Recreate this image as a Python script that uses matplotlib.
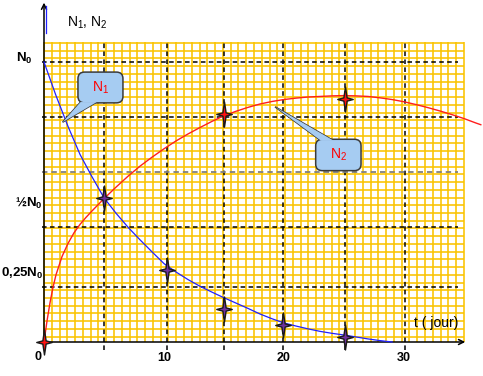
import numpy as np
import matplotlib.pyplot as plt
from matplotlib.path import Path
from matplotlib.patches import FancyBboxPatch, Polygon

plt.rcParams['font.family'] = ['Liberation Sans', 'DejaVu Sans']
plt.rcParams['mathtext.fontset'] = 'custom'
plt.rcParams['mathtext.rm'] = 'Liberation Sans'
plt.rcParams['mathtext.bf'] = 'Liberation Sans:bold'
plt.rcParams['mathtext.default'] = 'rm'

# ── Data ──────────────────────────────────────────────
t_n1 = [0, 1, 2, 3, 4, 5, 6, 7, 8, 9, 10, 11, 12, 13, 14,
        15, 16, 17, 18, 19, 20, 21, 22, 23, 24, 25, 26, 27, 28, 29]
n1 = [1.00, 0.88, 0.77, 0.67, 0.59, 0.515, 0.46, 0.41, 0.365, 0.322,
      0.280, 0.250, 0.223, 0.199, 0.178, 0.158, 0.139, 0.120, 0.100, 0.083,
      0.068, 0.057, 0.047, 0.038, 0.031, 0.025, 0.018, 0.011, 0.005, 0.0]

t_n2 = [0, 0.25, 0.5, 0.75, 1, 1.5, 2, 2.5, 3, 3.5, 4, 4.5, 5, 6, 7, 8,
        9, 10, 11, 12, 13, 14, 15, 16, 17, 18, 19, 20, 21, 22, 23, 24,
        25, 26, 27, 28, 29, 30, 31, 32, 33, 34, 35, 36, 36.4]
n2 = [0.0, 0.075, 0.14, 0.195, 0.24, 0.305, 0.352, 0.39, 0.42, 0.445,
      0.468, 0.49, 0.512, 0.553, 0.592, 0.628, 0.660, 0.690, 0.718, 0.743,
      0.766, 0.788, 0.808, 0.824, 0.838, 0.850, 0.859, 0.866, 0.871, 0.875,
      0.877, 0.879, 0.880, 0.879, 0.877, 0.872, 0.866, 0.858, 0.848, 0.837,
      0.825, 0.812, 0.798, 0.782, 0.776]

n1_mark_t = [5, 10.25, 15, 19.9, 25.1]
n1_mark_v = [0.516, 0.257, 0.118, 0.0625, 0.019]
n2_mark_t = [0, 15, 25.1]
n2_mark_v = [0.0, 0.814, 0.868]

v_dash = [5, 10.25, 15, 19.9, 25.1, 30.1]
h_dash = [1.0, 0.805, 0.41, 0.195]
h_dash_grey = [0.607]

x_tick_vals = [10, 20, 30]
x_tick_labels = ['10', '20', '30']
y_tick_vals = [1.0, 0.5, 0.25]
y_tick_labels = [r'$\mathbf{N_0}$', r'½$\mathbf{N_0}$', r'0,25$\mathbf{N_0}$']

# ── Figure: one axes filling the canvas ────────────────
fig = plt.figure(figsize=(4.83, 3.76), dpi=100)
ax = fig.add_axes([0, 0, 1, 1])
ax.set_xlim(-44 / 12, 439 / 12)
ax.set_ylim(-34 / 280, 342 / 280)
ax.axis('off')

# graph paper
grid_c = '#FAC300'
ax.vlines(np.arange(55) * 0.648, 0, 1.072, colors=grid_c, lw=1.15, zorder=1)
ax.hlines(0.019 + np.arange(39) * 0.0276, 0, 35.0, colors=grid_c, lw=1.15,
          zorder=1)

# dashed guides
dash = (0, (3, 2.2))
ax.vlines(v_dash, -0.029, 1.075, colors='k', linestyles=dash, lw=1.1,
          zorder=2)
ax.hlines(h_dash, -0.17, 34.5, colors='k', linestyles=dash, lw=1.1, zorder=2)
ax.hlines(h_dash_grey, -0.17, 34.5, colors='#808080', linestyles=dash,
          lw=1.3, zorder=2)

# axes with arrows
arr = dict(arrowstyle='->', lw=1.1, color='k', shrinkA=0, shrinkB=0,
           mutation_scale=9)
ax.annotate('', xy=(0, 1.212), xytext=(0, 0), arrowprops=arr, zorder=3)
ax.annotate('', xy=(35.1, 0), xytext=(0, 0), arrowprops=arr, zorder=3)
ax.plot([0.15, 0.15], [1.105, 1.2], color='#2020FF', lw=0.9, zorder=3)

# curves
ax.plot(t_n1, n1, color='#2020FF', lw=0.9, zorder=4)
ax.plot(t_n2, n2, color='#FF1E1E', lw=1.0, zorder=4)

# callouts (N1, N2)
callouts = [
    (r'N$_1$', (2.83, 0.854), 3.75, 0.11,
     [(3.05, 0.857), (4.4, 0.857), (1.55, 0.785)]),
    (r'N$_2$', (22.64, 0.612), 3.78, 0.112,
     [(23.05, 0.72), (24.1, 0.72), (19.25, 0.84)]),
]
for lab, (x0, y0), w, h, tail in callouts:
    ax.add_patch(Polygon(tail, closed=True, fc='#A6CCF2', ec='#3A3A3A',
                         lw=1.1, zorder=5))
    box = FancyBboxPatch((x0, y0), w, h,
                         boxstyle='round,pad=0,rounding_size=0.55',
                         mutation_aspect=12 / 280,
                         fc='#A6CCF2', ec='#3A3A3A', lw=1.1, zorder=5)
    ax.add_patch(box)
    ax.add_patch(Polygon(tail, closed=True, fc='#A6CCF2', ec='none',
                         zorder=5.5))
    ax.text(x0 + w / 2, y0 + h / 2, lab, color='#FF0000', fontsize=10,
            ha='center', va='center', zorder=6)

# star markers
star = Path([(0, 1), (0.13, 0.13), (0.62, 0), (0.13, -0.13), (0, -1),
             (-0.13, -0.13), (-0.62, 0), (-0.13, 0.13), (0, 1)],
            [Path.MOVETO] + [Path.LINETO] * 7 + [Path.CLOSEPOLY])
ax.plot(n2_mark_t, n2_mark_v, ls='none', marker=star, ms=18,
        mfc='#FF1010', mec='#1A1A1A', mew=1.0, zorder=7)
ax.plot(n1_mark_t, n1_mark_v, ls='none', marker=star, ms=18,
        mfc='#7030A0', mec='#1A1A1A', mew=1.0, zorder=7)

# labels
ax.text(1.92, 1.139, r'N$_1$, N$_2$', fontsize=10, ha='left',
        va='center')
ax.text(30.8, 0.068, 't ( jour)', fontsize=10, ha='left', va='center')
ax.text(-0.5, -0.054, '0', fontsize=9, fontweight='bold', ha='center',
        va='center')
for xv, xl in zip(x_tick_vals, x_tick_labels):
    ax.text(xv, -0.057, xl, fontsize=9, fontweight='bold', ha='center',
            va='center')
y_lab_x = [-0.92, -0.08, -0.08]
for yx, yv, yl in zip(y_lab_x, y_tick_vals, y_tick_labels):
    ax.text(yx, yv + (0.014 if yv == 1.0 else -0.004), yl, fontsize=9.5,
            fontweight='bold', ha='right', va='center')

fig.savefig('out.png', dpi=100, facecolor='white')
